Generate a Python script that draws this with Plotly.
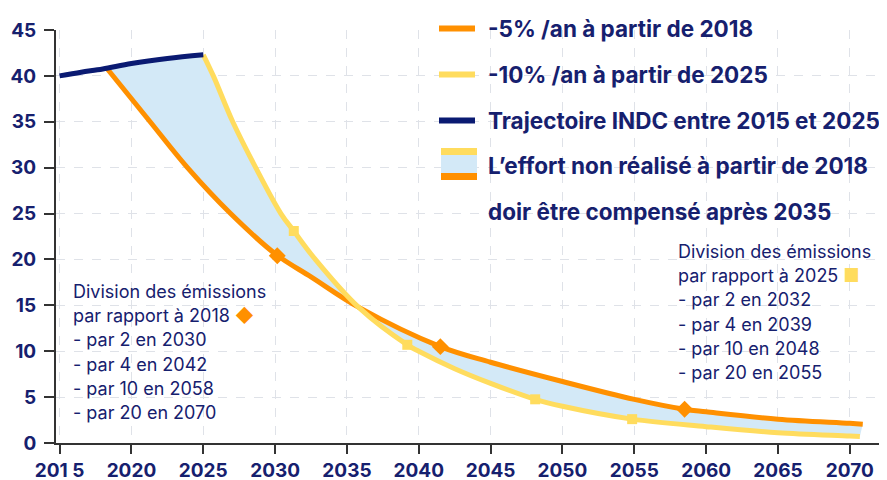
import plotly.graph_objects as go

NAVY_TEXT = "#16206e"
ORANGE = "#ff9000"
YELLOW = "#ffdc5e"
NAVY = "#0a1a72"
FILL = "#d3e9f7"
AXIS = "#333333"
GRID = "#dfe2e8"
FONT = "Inter"

# INDC trajectory 2015-2025
indc_years = [2015, 2016.5, 2018, 2020, 2022.5, 2025]
indc_vals = [40.0, 40.4, 40.75, 41.35, 41.9, 42.3]

# -5 % / year from 2018
y5_years = [2018.3, 2021.3, 2023.9, 2026.9, 2030.1, 2032.5, 2035.8, 2041.5,
            2045, 2050, 2055, 2058.5, 2060, 2065, 2070, 2070.9]
y5_vals = [40.8, 35.0, 30.0, 25.0, 20.5, 18.1, 14.8, 10.5,
           8.8, 6.7, 4.75, 3.67, 3.4, 2.6, 2.15, 2.05]

# -10 % / year from 2025
y10_years = [2025, 2025.7, 2027.05, 2028.65, 2030.4, 2031.3, 2032.8, 2035.8, 2039.2,
             2040, 2042.5, 2045, 2048.1, 2050, 2054.85, 2060, 2065, 2070, 2070.7]
y10_vals = [42.3, 40.0, 35.0, 30.0, 25.0, 23.1, 20.0, 14.8, 10.7,
            10.0, 8.1, 6.5, 4.76, 4.0, 2.6, 1.78, 1.12, 0.76, 0.7]

# division markers
div18_years = [2030.15, 2041.5, 2058.5]
div18_vals = [20.4, 10.5, 3.67]
div25_years = [2031.3, 2039.2, 2048.1, 2054.85]
div25_vals = [23.1, 10.7, 4.76, 2.6]

x_ticks = [2015, 2020, 2025, 2030, 2035, 2040, 2045, 2050, 2055, 2060, 2065, 2070]
x_ticktext = ["201 5"] + [str(v) for v in x_ticks[1:]]

legend_items = ["-5% /an à partir de 2018", "-10% /an à partir de 2025",
                "Trajectoire INDC entre 2015 et 2025",
                "L’effort non réalisé à partir de 2018",
                "doir être compensé après 2035"]
left_note = ["Division des émissions", "par rapport à 2018",
             "- par 2 en 2030", "- par 4 en 2042", "- par 10 en 2058", "- par 20 en 2070"]
right_note = ["Division des émissions", "par rapport à 2025",
              "- par 2 en 2032", "- par 4 en 2039", "- par 10 en 2048", "- par 20 en 2055"]

# upper edge of the shaded area: INDC after 2018 then the -10 % path
upper_x = [y5_years[0]] + [x for x in indc_years if y5_years[0] < x < 2025] + y10_years
upper_y = [y5_vals[0]] + [v for x, v in zip(indc_years, indc_vals) if y5_years[0] < x < 2025] + y10_vals

fig = go.Figure()
fig.add_trace(go.Scatter(x=upper_x, y=upper_y, mode="lines", line=dict(width=0, shape="spline"),
                         hoverinfo="skip"))
fig.add_trace(go.Scatter(x=y5_years, y=y5_vals, mode="lines", line=dict(width=0, shape="spline"),
                         fill="tonexty", fillcolor=FILL, hoverinfo="skip"))
fig.add_trace(go.Scatter(x=y5_years, y=y5_vals, mode="lines",
                         line=dict(color=ORANGE, width=5, shape="spline")))
fig.add_trace(go.Scatter(x=y10_years, y=y10_vals, mode="lines",
                         line=dict(color=YELLOW, width=5, shape="spline")))
fig.add_trace(go.Scatter(x=indc_years, y=indc_vals, mode="lines",
                         line=dict(color=NAVY, width=5, shape="spline")))
fig.add_trace(go.Scatter(x=div18_years, y=div18_vals, mode="markers",
                         marker=dict(symbol="diamond", size=13, color=ORANGE)))
fig.add_trace(go.Scatter(x=div25_years, y=div25_vals, mode="markers",
                         marker=dict(symbol="square", size=10, color=YELLOW)))


# page pixel -> paper coords (plot area spans x 56..880, y 30..443 on the page)
def px(x):
    return (x - 56) / 824


def py(y):
    return (443 - y) / 413


shapes = []
for yy, col in [(28.5, ORANGE), (74.5, YELLOW), (120.5, NAVY)]:
    shapes.append(dict(type="line", xref="paper", yref="paper", x0=px(439), x1=px(475),
                       y0=py(yy), y1=py(yy), line=dict(color=col, width=6)))
for y0, y1, col in [(148, 155, YELLOW), (155, 173, FILL), (173, 180, ORANGE)]:
    shapes.append(dict(type="rect", xref="paper", yref="paper", x0=px(441), x1=px(477),
                       y0=py(y1), y1=py(y0), line=dict(width=0), fillcolor=col))

annotations = []
for i, t in enumerate(legend_items):
    annotations.append(dict(xref="paper", yref="paper", x=px(486), y=py(29 + 45.5 * i), text=t,
                            showarrow=False, xanchor="left", yanchor="middle",
                            font=dict(family=FONT, size=22.5, weight="bold", color=NAVY_TEXT)))
for i, t in enumerate(left_note):
    if i == 1:
        t += ' <span style="color:%s">◆</span>' % ORANGE
    annotations.append(dict(xref="paper", yref="paper", x=px(71), y=py(291.5 + 24.2 * i), text=t,
                            showarrow=False, xanchor="left", yanchor="middle",
                            font=dict(family=FONT, size=18, color=NAVY_TEXT)))
for i, t in enumerate(right_note):
    if i == 1:
        t += ' <span style="color:%s">■</span>' % YELLOW
    annotations.append(dict(xref="paper", yref="paper", x=px(676), y=py(251.5 + 24.2 * i), text=t,
                            showarrow=False, xanchor="left", yanchor="middle",
                            font=dict(family=FONT, size=18, color=NAVY_TEXT)))

# the page body adds an 8px offset on the left/top
fig.update_layout(
    width=879, height=480,
    margin=dict(l=48, r=7, t=22, b=45),
    paper_bgcolor="white", plot_bgcolor="white",
    showlegend=False,
    font=dict(family=FONT, color=NAVY_TEXT),
    shapes=shapes, annotations=annotations,
)
fig.update_xaxes(
    range=[2014.75, 2072.1], tickvals=x_ticks, ticktext=x_ticktext,
    ticks="outside", ticklen=9, tickwidth=2, tickcolor=AXIS, ticklabelstandoff=0,
    showline=True, linecolor=AXIS, linewidth=2, automargin=False,
    showgrid=True, gridcolor=GRID, griddash="dash", gridwidth=1, zeroline=False,
    tickfont=dict(family=FONT, size=19, weight="bold", color=NAVY_TEXT),
)
fig.update_yaxes(
    range=[0, 45], tickvals=list(range(0, 50, 5)),
    ticks="outside", ticklen=10, tickwidth=2, tickcolor=AXIS, ticklabelstandoff=4,
    showline=True, linecolor=AXIS, linewidth=2, automargin=False,
    showgrid=True, gridcolor=GRID, griddash="dash", gridwidth=1, zeroline=False,
    tickfont=dict(family=FONT, size=19, weight="bold", color=NAVY_TEXT),
)

fig.write_html("out.html")
